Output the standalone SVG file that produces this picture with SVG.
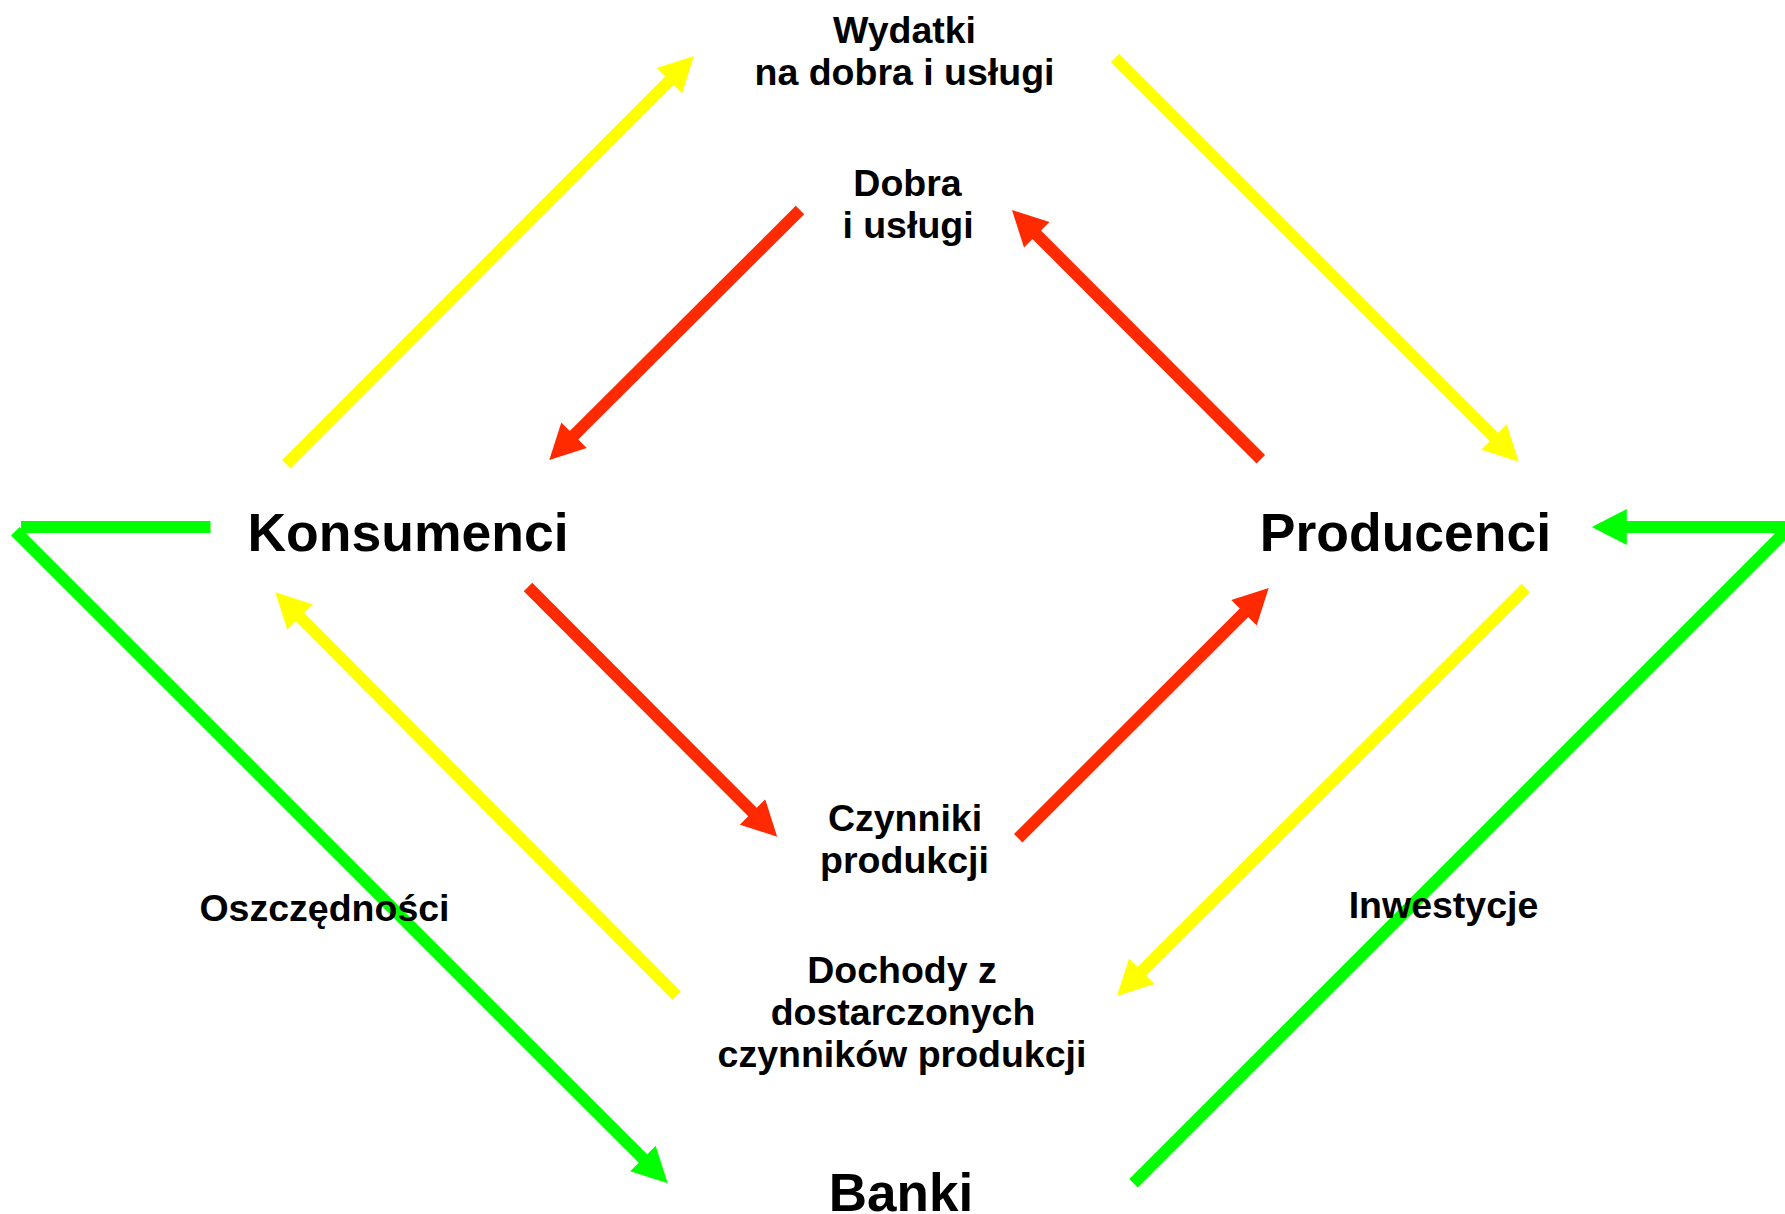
<svg xmlns="http://www.w3.org/2000/svg" width="1785" height="1214" viewBox="0 0 1785 1214">
<style>
.t{font-family:"Liberation Sans",Arial,sans-serif;font-weight:bold;fill:#000;text-anchor:middle}
.m{font-size:37.5px}
.b{font-size:53.5px}
.y{stroke:#FFFF00;stroke-width:12;fill:none}
.r{stroke:#FF2A00;stroke-width:12;fill:none}
.g{stroke:#00FF00;stroke-width:12;fill:none}
</style>
<defs>
<marker id="ay" markerUnits="userSpaceOnUse" markerWidth="36" markerHeight="36" viewBox="0 0 35 36" refX="5" refY="18" orient="auto"><path d="M0,0 L35,18 L0,36 z" fill="#FFFF00"/></marker>
<marker id="ar" markerUnits="userSpaceOnUse" markerWidth="36" markerHeight="36" viewBox="0 0 35 36" refX="5" refY="18" orient="auto"><path d="M0,0 L35,18 L0,36 z" fill="#FF2A00"/></marker>
<marker id="ag" markerUnits="userSpaceOnUse" markerWidth="36" markerHeight="36" viewBox="0 0 35 36" refX="5" refY="18" orient="auto"><path d="M0,0 L35,18 L0,36 z" fill="#00FF00"/></marker>
</defs>
<rect width="1785" height="1214" fill="#fff"/>
<g id="connectors">
<line class="y" x1="286.3" y1="464.3" x2="672.8" y2="77.2" marker-end="url(#ay)"/>
<line class="y" x1="1115" y1="58" x2="1497.5" y2="440.5" marker-end="url(#ay)"/>
<line class="r" x1="800" y1="210" x2="570.5" y2="438.8" marker-end="url(#ar)"/>
<line class="r" x1="1260.8" y1="459.2" x2="1033.2" y2="231.2" marker-end="url(#ar)"/>
<line class="r" x1="528" y1="587" x2="756" y2="815.5" marker-end="url(#ar)"/>
<line class="r" x1="1018.2" y1="838.2" x2="1247.5" y2="609.2" marker-end="url(#ar)"/>
<line class="y" x1="1525.8" y1="588" x2="1138.2" y2="974.8" marker-end="url(#ay)"/>
<line class="y" x1="676.5" y1="995.5" x2="296.5" y2="613.5" marker-end="url(#ay)"/>
<line class="g" x1="210.5" y1="527" x2="21" y2="527"/>
<line class="g" x1="15.3" y1="531.2" x2="646.5" y2="1162.1" marker-end="url(#ag)"/>
<polyline class="g" points="1133.5,1183.3 1790,527 1621.8,527" marker-end="url(#ag)"/>
</g>
<g id="wydatki"><text class="t m" x="904.5" y="43">Wydatki</text><text class="t m" x="904.5" y="85">na dobra i usługi</text></g>
<g id="dobra"><text class="t m" x="907.5" y="196">Dobra</text><text class="t m" x="908" y="238">i usługi</text></g>
<g id="konsumenci"><text class="t b" x="408" y="551">Konsumenci</text></g>
<g id="producenci"><text class="t b" x="1405.5" y="551">Producenci</text></g>
<g id="czynniki"><text class="t m" x="905" y="831">Czynniki</text><text class="t m" x="904.5" y="873">produkcji</text></g>
<g id="dochody"><text class="t m" x="902" y="983">Dochody z</text><text class="t m" x="903" y="1025">dostarczonych</text><text class="t m" x="902" y="1067">czynników produkcji</text></g>
<g id="oszczednosci"><text class="t m" x="324.5" y="921">Oszczędności</text></g>
<g id="inwestycje"><text class="t m" x="1443.5" y="918">Inwestycje</text></g>
<g id="banki"><text class="t" style="font-size:53px" x="901" y="1211">Banki</text></g>
</svg>
